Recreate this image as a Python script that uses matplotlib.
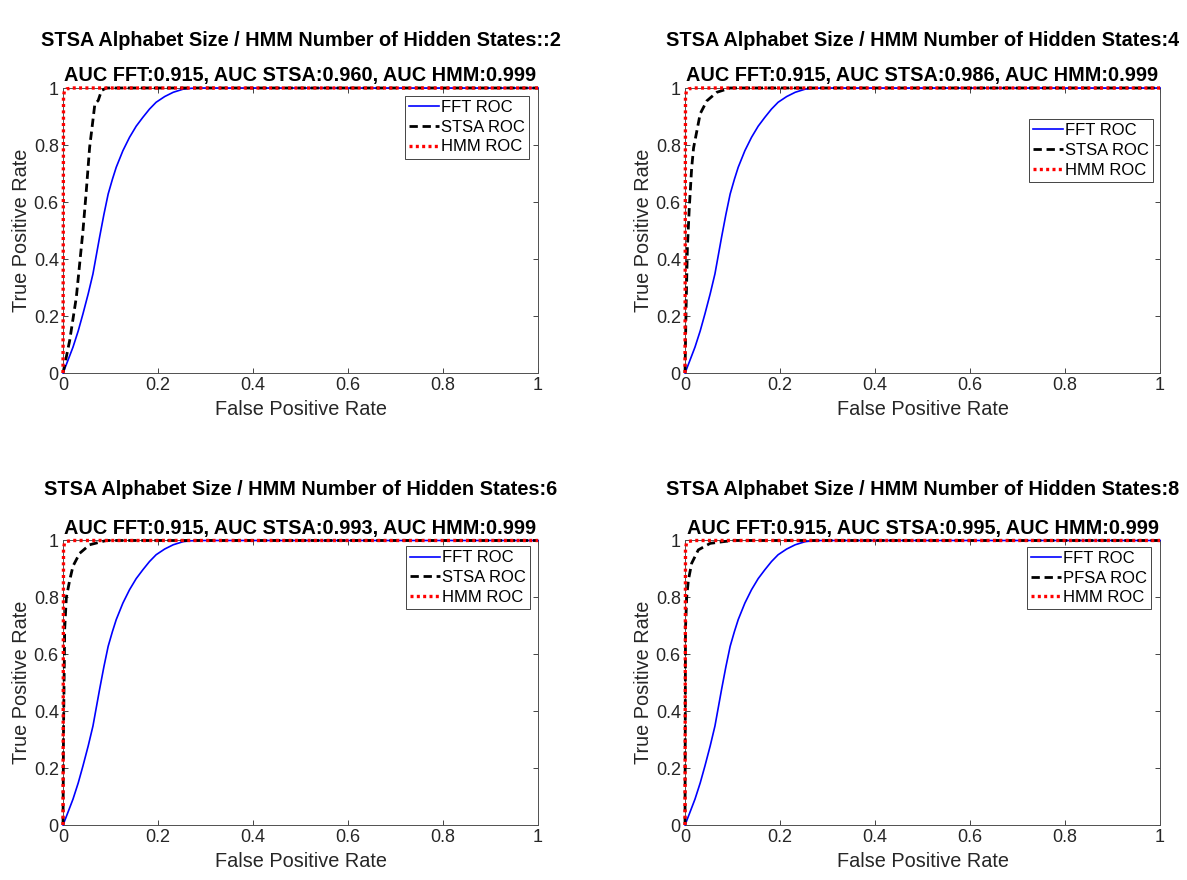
import numpy as np
import matplotlib
matplotlib.use('Agg')
import matplotlib.pyplot as plt

plt.rcParams['font.family'] = ['Liberation Sans', 'DejaVu Sans']

sizes = [2, 4, 6, 8]
suptitles = ['STSA Alphabet Size / HMM Number of Hidden States::2',
             'STSA Alphabet Size / HMM Number of Hidden States:4',
             'STSA Alphabet Size / HMM Number of Hidden States:6',
             'STSA Alphabet Size / HMM Number of Hidden States:8']
auc_fft = [0.915, 0.915, 0.915, 0.915]
auc_stsa = [0.960, 0.986, 0.993, 0.995]
auc_hmm = [0.999, 0.999, 0.999, 0.999]
mid_labels = ['STSA ROC', 'STSA ROC', 'STSA ROC', 'PFSA ROC']

# FFT roc (same for every panel)
fft_fpr = [0, 0.01, 0.021, 0.032, 0.042, 0.053, 0.063, 0.077, 0.086, 0.095, 0.104, 0.112,
           0.126, 0.14, 0.154, 0.168, 0.182, 0.196, 0.214, 0.232, 0.253, 0.27, 0.288, 1.0]
fft_tpr = [0, 0.043, 0.091, 0.148, 0.208, 0.278, 0.348, 0.477, 0.556, 0.628, 0.680, 0.722,
           0.780, 0.827, 0.866, 0.897, 0.926, 0.950, 0.970, 0.985, 0.996, 0.999, 1.0, 1.0]

# STSA roc per alphabet size
stsa_fpr = [
    [0, 0.014, 0.028, 0.042, 0.049, 0.056, 0.062, 0.067, 0.074, 0.081, 0.091, 1.0],
    [0, 0.002, 0.005, 0.009, 0.014, 0.018, 0.025, 0.032, 0.046, 0.067, 0.095, 1.0],
    [0, 0.001, 0.0035, 0.007, 0.014, 0.021, 0.035, 0.056, 0.091, 1.0],
    [0, 0.001, 0.0035, 0.007, 0.014, 0.028, 0.053, 0.1, 1.0],
]
stsa_tpr = [
    [0, 0.114, 0.266, 0.5, 0.64, 0.792, 0.874, 0.944, 0.956, 0.991, 1.0, 1.0],
    [0, 0.208, 0.44, 0.58, 0.72, 0.79, 0.85, 0.91, 0.955, 0.985, 1.0, 1.0],
    [0, 0.33, 0.69, 0.8, 0.86, 0.91, 0.955, 0.985, 1.0, 1.0],
    [0, 0.69, 0.8, 0.86, 0.92, 0.967, 0.99, 1.0, 1.0],
]

# HMM roc
hmm_fpr = [0, 0.001, 0.003, 0.008, 0.02, 1.0]
hmm_tpr = [0, 0.97, 0.99, 0.997, 1.0, 1.0]

ticks = [0, 0.2, 0.4, 0.6, 0.8, 1]
tick_labels = ['0', '0.2', '0.4', '0.6', '0.8', '1']

fig = plt.figure(figsize=(11.87, 8.8), dpi=100)
positions = [[0.0531, 0.5761, 0.4002, 0.3239],
             [0.5771, 0.5761, 0.4002, 0.3239],
             [0.0531, 0.0625, 0.4002, 0.3233],
             [0.5771, 0.0625, 0.4002, 0.3233]]
leg_anchor = [(0.981, 0.972), (0.985, 0.891), (0.983, 0.98), (0.981, 0.978)]
sup_y = [0.9545, 0.9545, 0.4432, 0.4432]
gray = '#262626'

for i in range(4):
    ax = fig.add_axes(positions[i])
    ax.plot(fft_fpr, fft_tpr, color='b', lw=1.2, label='FFT ROC', clip_on=False, zorder=3)
    ax.plot(stsa_fpr[i], stsa_tpr[i], color='k', lw=2, dashes=(3, 1.7), label=mid_labels[i],
            clip_on=False, zorder=3)
    ax.plot(hmm_fpr, hmm_tpr, color='r', lw=2.4, dashes=(0.9, 1.0), label='HMM ROC',
            clip_on=False, zorder=3)
    ax.set_xlim(0, 1)
    ax.set_ylim(0, 1)
    ax.set_xticks(ticks)
    ax.set_xticklabels(tick_labels)
    ax.set_yticks(ticks)
    ax.set_yticklabels(tick_labels)
    ax.tick_params(direction='in', top=True, right=True, length=3.5, width=0.6,
                   colors=gray, labelsize=13, pad=3)
    for s in ax.spines.values():
        s.set_color('#505050')
        s.set_linewidth(0.7)
    ax.set_xlabel('False Positive Rate', fontsize=14.3, color=gray, labelpad=4)
    ax.set_ylabel('True Positive Rate', fontsize=14.3, color=gray, labelpad=2)
    ax.set_title(f'AUC FFT:{auc_fft[i]:.3f}, AUC STSA:{auc_stsa[i]:.3f}, AUC HMM:{auc_hmm[i]:.3f}',
                 fontsize=14.3, fontweight='bold', pad=5)
    leg = ax.legend(loc='upper right', bbox_to_anchor=leg_anchor[i], borderaxespad=0,
                    fontsize=12, fancybox=False, framealpha=1, edgecolor=gray,
                    handlelength=1.8, handletextpad=0.1, labelspacing=0.28, borderpad=0.25)
    leg.get_frame().set_linewidth(0.6)
    leg.set_zorder(5)
    cx = positions[i][0] + positions[i][2] / 2
    fig.text(cx, sup_y[i], suptitles[i], ha='center', va='center', fontsize=14.3, fontweight='bold')

plt.savefig('out.png', dpi=100)
